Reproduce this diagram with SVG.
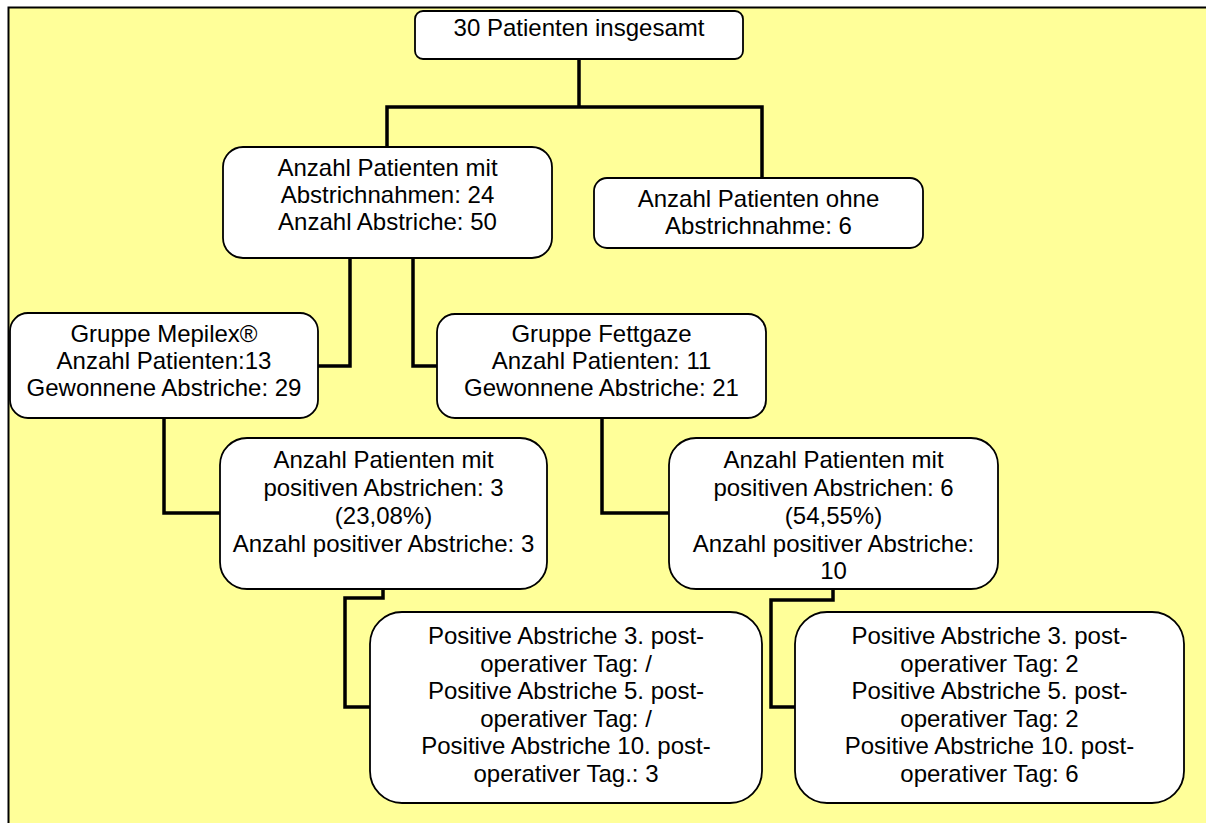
<svg xmlns="http://www.w3.org/2000/svg" width="1206" height="823" viewBox="0 0 1206 823">
<style>
.bg{fill:#FFFF99;stroke:#000;stroke-width:2}
.box{fill:#fff;stroke:#000;stroke-width:1.8}
.con{fill:none;stroke:#000;stroke-width:3.5;stroke-linejoin:miter;stroke-linecap:square}
text{font-family:"Liberation Sans",Arial,sans-serif;font-size:24px;fill:#000;text-anchor:middle}
</style>
<rect class="bg" x="8.5" y="7.5" width="1210" height="830"/>
<g id="connectors">
<path class="con" d="M579 59 V107 M387 147 V107 H762 V178"/>
<path class="con" d="M350 258 V366 H318"/>
<path class="con" d="M413 258 V366 H437"/>
<path class="con" d="M164 418 V513 H220"/>
<path class="con" d="M602 418 V513 H669"/>
<path class="con" d="M383 589 V598 H345 V707 H370"/>
<path class="con" d="M833 589 V600 H771 V707 H795"/>
</g>
<g id="n-total">
<rect class="box" x="415" y="11" width="328" height="48" rx="8"/>
<text x="579" y="36">30 Patienten insgesamt</text>
</g>
<g id="n-mit">
<rect class="box" x="223" y="147" width="329" height="111" rx="20"/>
<text x="387.5" y="176">Anzahl Patienten mit</text>
<text x="387.5" y="203">Abstrichnahmen: 24</text>
<text x="387.5" y="230">Anzahl Abstriche: 50</text>
</g>
<g id="n-ohne">
<rect class="box" x="594" y="178" width="329" height="70" rx="13"/>
<text x="758.5" y="207">Anzahl Patienten ohne</text>
<text x="758.5" y="234">Abstrichnahme: 6</text>
</g>
<g id="n-mepilex">
<rect class="box" x="10" y="313" width="308" height="105" rx="18"/>
<text x="164" y="342">Gruppe Mepilex®</text>
<text x="164" y="369">Anzahl Patienten:13</text>
<text x="164" y="396">Gewonnene Abstriche: 29</text>
</g>
<g id="n-fettgaze">
<rect class="box" x="437" y="314" width="329" height="104" rx="18"/>
<text x="601.5" y="342">Gruppe Fettgaze</text>
<text x="601.5" y="369">Anzahl Patienten: 11</text>
<text x="601.5" y="396">Gewonnene Abstriche: 21</text>
</g>
<g id="n-pos-mepilex">
<rect class="box" x="220" y="438" width="327" height="151" rx="27"/>
<text x="383.5" y="468">Anzahl Patienten mit</text>
<text x="383.5" y="496">positiven Abstrichen: 3</text>
<text x="383.5" y="524">(23,08%)</text>
<text x="383.5" y="552">Anzahl positiver Abstriche: 3</text>
</g>
<g id="n-pos-fettgaze">
<rect class="box" x="669" y="438" width="329" height="151" rx="27"/>
<text x="833.5" y="468">Anzahl Patienten mit</text>
<text x="833.5" y="496">positiven Abstrichen: 6</text>
<text x="833.5" y="524">(54,55%)</text>
<text x="833.5" y="552">Anzahl positiver Abstriche:</text>
<text x="833.5" y="579">10</text>
</g>
<g id="n-tage-mepilex">
<rect class="box" x="370" y="612" width="392" height="191" rx="32"/>
<text x="566" y="644">Positive Abstriche 3. post-</text>
<text x="566" y="671.5">operativer Tag: /</text>
<text x="566" y="699">Positive Abstriche 5. post-</text>
<text x="566" y="726.5">operativer Tag: /</text>
<text x="566" y="754">Positive Abstriche 10. post-</text>
<text x="566" y="781.5">operativer Tag.: 3</text>
</g>
<g id="n-tage-fettgaze">
<rect class="box" x="795" y="612" width="389" height="191" rx="32"/>
<text x="989.5" y="644">Positive Abstriche 3. post-</text>
<text x="989.5" y="671.5">operativer Tag: 2</text>
<text x="989.5" y="699">Positive Abstriche 5. post-</text>
<text x="989.5" y="726.5">operativer Tag: 2</text>
<text x="989.5" y="754">Positive Abstriche 10. post-</text>
<text x="989.5" y="781.5">operativer Tag: 6</text>
</g>
</svg>
